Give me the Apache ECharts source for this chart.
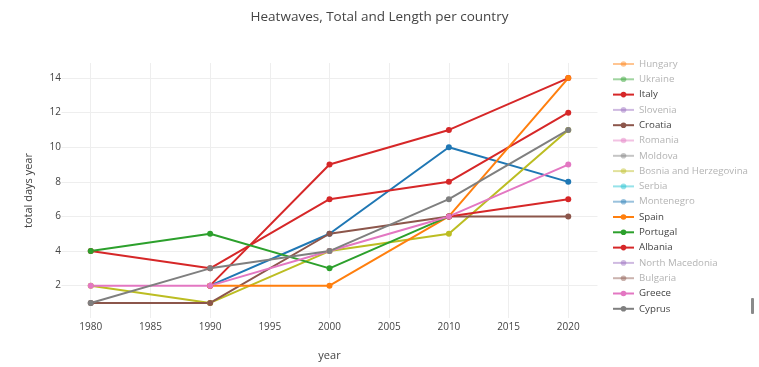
<!DOCTYPE html>
<html>
<head>
<meta charset="utf-8">
<script src="https://cdn.jsdelivr.net/npm/echarts@6/dist/echarts.min.js"></script>
<style>html,body{margin:0;padding:0;background:#fff}#c{width:759px;height:367px}</style>
</head>
<body>
<div id="c"></div>
<script>
const years = [1980, 1990, 2000, 2010, 2020];
const xTicks = [1980, 1985, 1990, 1995, 2000, 2005, 2010, 2015, 2020];
const yTicks = [2, 4, 6, 8, 10, 12, 14];

// traces listed above the visible part of the scrolled legend (names not visible)
const offLegendBlue = [null, 2, 5, 10, 8];
const offLegendRed = [null, 2, 9, 11, 14];
const offLegendOlive = [2, 1, 4, 5, 11];

const italy = [4, 3, 7, 8, 12];
const croatia = [1, 1, 5, 6, 6];
const spain = [null, 2, 2, 6, 14];
const portugal = [4, 5, 3, 6, null];
const albania = [null, null, null, 6, 7];
const greece = [2, 2, 4, 6, 9];
const cyprus = [1, 3, 4, 7, 11];

const legendNames = ['Hungary','Ukraine','Italy','Slovenia','Croatia','Romania','Moldova','Bosnia and Herzegovina','Serbia','Montenegro','Spain','Portugal','Albania','North Macedonia','Bulgaria','Greece','Cyprus'];
const legendColors = ['#ff7f0e','#2ca02c','#d62728','#9467bd','#8c564b','#e377c2','#7f7f7f','#bcbd22','#17becf','#1f77b4','#ff7f0e','#2ca02c','#d62728','#9467bd','#8c564b','#e377c2','#7f7f7f'];
const shownValues = {
  'Italy': italy, 'Croatia': croatia, 'Spain': spain, 'Portugal': portugal,
  'Albania': albania, 'Greece': greece, 'Cyprus': cyprus
};

function pairs(vals) { return years.map((y, i) => [y, vals[i]]); }

function mkSeries(name, color, vals) {
  return {
    name: name, type: 'line', data: vals ? pairs(vals) : [],
    symbol: 'circle', symbolSize: 6, connectNulls: false,
    lineStyle: { width: 2, color: color },
    itemStyle: { color: color },
    emphasis: { disabled: true },
    animation: false
  };
}

const series = [
  mkSeries('off-legend A', '#1f77b4', offLegendBlue),
  mkSeries('off-legend B', '#d62728', offLegendRed),
  mkSeries('off-legend C', '#bcbd22', offLegendOlive)
];
legendNames.forEach((n, i) => series.push(mkSeries(n, legendColors[i], shownValues[n] || null)));

const legendData = legendNames.map(n => {
  const on = !!shownValues[n];
  return {
    name: n,
    itemStyle: { opacity: on ? 1 : 0.45 },
    lineStyle: { opacity: on ? 1 : 0.45 },
    textStyle: { color: on ? '#444' : '#b4b4b4' }
  };
});

const chart = echarts.init(document.getElementById('c'), null, { renderer: 'canvas' });
chart.setOption({
  backgroundColor: '#fff',
  animation: false,
  title: {
    text: 'Heatwaves, Total and Length per country',
    left: 'center', top: 10, padding: 0,
    textStyle: { fontFamily: 'Open Sans', fontSize: 13.5, fontWeight: 'normal', color: '#444' }
  },
  legend: {
    orient: 'vertical', left: 612, top: 58, padding: 0,
    itemWidth: 21, itemHeight: 7, itemGap: 3.3,
    data: legendData,
    textStyle: { fontFamily: 'Open Sans', fontSize: 9.7, color: '#444', lineHeight: 12 },
    selectedMode: false
  },
  grid: { left: 61.5, right: 161.5, top: 63, bottom: 49, containLabel: false, outerBoundsMode: 'none' },
  xAxis: {
    type: 'value', min: 1977.55, max: 2022.45,
    name: 'year', nameLocation: 'middle', nameGap: 32,
    nameTextStyle: { fontFamily: 'Open Sans', fontSize: 11, color: '#444' },
    axisLine: { show: false },
    axisTick: { show: false, customValues: xTicks },
    axisLabel: { customValues: xTicks, formatter: v => String(v), fontFamily: 'Open Sans', fontSize: 10, color: '#444', margin: 4 },
    splitLine: { show: true, lineStyle: { color: '#eeeeee', width: 1 } }
  },
  yAxis: {
    type: 'value', min: 0.13, max: 14.87,
    name: 'total days year', nameLocation: 'middle', nameGap: 27,
    nameTextStyle: { fontFamily: 'Open Sans', fontSize: 11, color: '#444' },
    axisLine: { show: false },
    axisTick: { show: false, customValues: yTicks },
    axisLabel: { customValues: yTicks, fontFamily: 'Open Sans', fontSize: 10, color: '#444', margin: 0.5 },
    splitLine: { show: true, lineStyle: { color: '#eeeeee', width: 1 } }
  },
  graphic: [
    { type: 'rect', left: 602, top: 0, z: 100, shape: { width: 157, height: 60 }, style: { fill: '#fff' } },
    { type: 'rect', left: 751, top: 298, z: 100, shape: { width: 3, height: 16, r: 1 }, style: { fill: '#8a8a8a' } }
  ],
  series: series
});
</script>
</body>
</html>
